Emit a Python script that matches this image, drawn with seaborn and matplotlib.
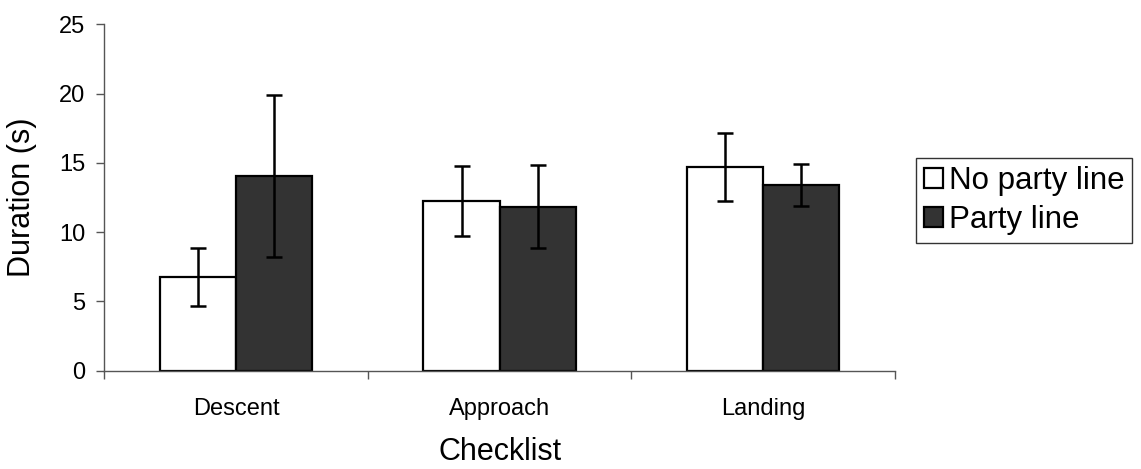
import matplotlib
matplotlib.use("Agg")
import matplotlib.pyplot as plt
import seaborn as sns
import pandas as pd
import numpy as np

categories = ["Descent", "Approach", "Landing"]
groups = ["No party line", "Party line"]
no_party_mean = [6.77, 12.26, 14.69]
no_party_err = [2.07, 2.54, 2.45]
party_mean = [14.05, 11.84, 13.39]
party_err = [5.82, 3.00, 1.53]
y_ticks = [0, 5, 10, 15, 20, 25]

df = pd.DataFrame({
    "Checklist": categories * 2,
    "Group": [groups[0]] * 3 + [groups[1]] * 3,
    "Duration": no_party_mean + party_mean,
})
errs = no_party_err + party_err

sns.set_theme(style="white")
plt.rcParams["font.family"] = ["Liberation Sans", "DejaVu Sans"]
plt.rcParams["text.color"] = "black"
plt.rcParams["axes.labelcolor"] = "black"

fig = plt.figure(figsize=(11.41, 4.69), dpi=100)
ax = fig.add_axes([0.0914, 0.2096, 0.693, 0.7386])

sns.barplot(data=df, x="Checklist", y="Duration", hue="Group",
            order=categories, hue_order=groups,
            palette=["#ffffff", "#333333"], width=0.578,
            edgecolor="black", linewidth=1.6, errorbar=None, ax=ax)

# error bars at the centres of the bars seaborn drew
bars = [p for p in ax.patches if p.get_height() > 0][:6]
xs = [b.get_x() + b.get_width() / 2 for b in bars]
hs = [b.get_height() for b in bars]
ax.errorbar(xs, hs, yerr=errs, fmt="none", ecolor="black",
            elinewidth=1.8, capsize=6, capthick=1.8, zorder=5)

ax.set_xlim(-0.5, 2.5)
ax.set_ylim(0, 25)
ax.set_yticks(y_ticks)
ax.set_yticklabels([str(v) for v in y_ticks])

ax.set_xticks(range(3))
ax.set_xticklabels(categories)
ax.set_xticks([-0.5, 0.5, 1.5, 2.5], minor=True)
ax.tick_params(axis="x", which="major", length=0, pad=20, labelsize=17,
               labelcolor="black")
ax.tick_params(axis="x", which="minor", length=5.5, width=1,
               direction="out", color="#555555", bottom=True)
ax.tick_params(axis="y", which="major", length=5.5, width=1,
               direction="out", color="#555555", left=True,
               pad=8, labelsize=17, labelcolor="black")

for s in ["top", "right"]:
    ax.spines[s].set_visible(False)
for s in ["left", "bottom"]:
    ax.spines[s].set_color("#555555")
    ax.spines[s].set_linewidth(1)

ax.set_xlabel("Checklist", fontsize=22, labelpad=12, color="black")
ax.set_ylabel("Duration (s)", fontsize=22, labelpad=16, color="black")

handles, labels = ax.get_legend_handles_labels()
leg = ax.legend(handles, labels, loc="upper left",
                bbox_to_anchor=(0.803, 0.663), bbox_transform=fig.transFigure,
                frameon=True, fancybox=False, edgecolor="black",
                handlelength=0.6, handleheight=0.6, handletextpad=0.2,
                borderaxespad=0, borderpad=0.25, labelspacing=0.3,
                fontsize=22.5)
leg.get_frame().set_linewidth(1)
for t in leg.get_texts():
    t.set_color("black")

fig.savefig("out.png", dpi=100)
